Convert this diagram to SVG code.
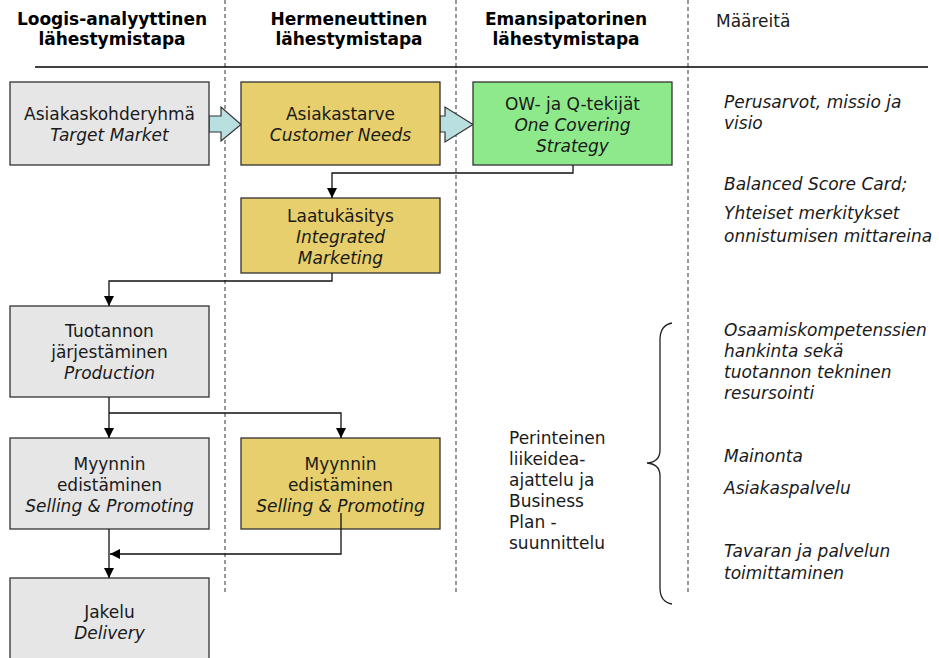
<svg xmlns="http://www.w3.org/2000/svg" width="939" height="658" viewBox="0 0 939 658">
  <style>
    text { font-family: Verdana, "DejaVu Sans", sans-serif; font-size: 17px; fill: #1a1a1a; }
    .hd { font-weight: bold; text-anchor: middle; fill: #000; }
    .c { text-anchor: middle; }
    .i { font-style: italic; }
    .box { stroke: #333; stroke-width: 1.3; }
    .gray { fill: #e6e6e6; }
    .gold { fill: #e6cf6c; }
    .green { fill: #8ee98a; }
    .blk { fill: #b9dfe0; stroke: #333; stroke-width: 1.2; }
    .sep { stroke: #555; stroke-width: 1.2; stroke-dasharray: 4 3; fill: none; }
    .con { stroke: #111; stroke-width: 1.3; fill: none; }
  </style>
  <defs>
    <marker id="arr" markerUnits="userSpaceOnUse" markerWidth="10" markerHeight="10" viewBox="0 0 10 10" refX="10" refY="5" orient="auto">
      <path d="M0,0 L10,5 L0,10 Z" fill="#000"/>
    </marker>
  </defs>

  <!-- column separators and header rule -->
  <g id="grid">
    <line class="sep" x1="225" y1="0" x2="225" y2="594"/>
    <line class="sep" x1="456" y1="0" x2="456" y2="594"/>
    <line class="sep" x1="688" y1="0" x2="688" y2="595"/>
    <line x1="35" y1="67" x2="928" y2="67" stroke="#000" stroke-width="1.3"/>
  </g>

  <!-- column headings -->
  <g id="headers">
    <text class="hd" x="112" y="25">Loogis-analyyttinen</text>
    <text class="hd" x="112" y="45">lähestymistapa</text>
    <text class="hd" x="349" y="25">Hermeneuttinen</text>
    <text class="hd" x="349" y="45">lähestymistapa</text>
    <text class="hd" x="566" y="25">Emansipatorinen</text>
    <text class="hd" x="566" y="45">lähestymistapa</text>
    <text x="716" y="27">Määreitä</text>
  </g>

  <!-- block arrows between the top boxes -->
  <g id="flow-arrows">
    <polygon class="blk" points="209,116 221,116 221,107 241,124.5 221,141 221,132 209,132"/>
    <polygon class="blk" points="440,116 445,116 445,107 473,124.5 445,142 445,132 440,132"/>
  </g>

  <g id="target-market">
    <rect class="box gray" x="10" y="82" width="199" height="83"/>
    <text class="c" x="109.5" y="120">Asiakaskohderyhmä</text>
    <text class="c i" x="109.5" y="141">Target Market</text>
  </g>

  <g id="customer-needs">
    <rect class="box gold" x="241" y="82" width="199" height="83"/>
    <text class="c" x="340.5" y="120">Asiakastarve</text>
    <text class="c i" x="340.5" y="141">Customer Needs</text>
  </g>

  <g id="one-covering-strategy">
    <rect class="box green" x="473" y="82" width="199" height="83"/>
    <text class="c" x="572.5" y="110">OW- ja Q-tekijät</text>
    <text class="c i" x="572.5" y="131">One Covering</text>
    <text class="c i" x="572.5" y="152">Strategy</text>
  </g>

  <g id="integrated-marketing">
    <rect class="box gold" x="241" y="198" width="199" height="75"/>
    <text class="c" x="340.5" y="222">Laatukäsitys</text>
    <text class="c i" x="340.5" y="243">Integrated</text>
    <text class="c i" x="340.5" y="264">Marketing</text>
  </g>

  <g id="production">
    <rect class="box gray" x="10" y="306" width="199" height="91"/>
    <text class="c" x="109.5" y="337">Tuotannon</text>
    <text class="c" x="109.5" y="358">järjestäminen</text>
    <text class="c i" x="109.5" y="379">Production</text>
  </g>

  <g id="selling-left">
    <rect class="box gray" x="10" y="438" width="199" height="91"/>
    <text class="c" x="109.5" y="470">Myynnin</text>
    <text class="c" x="109.5" y="491">edistäminen</text>
    <text class="c i" x="109.5" y="512">Selling &amp; Promoting</text>
  </g>

  <g id="selling-right">
    <rect class="box gold" x="241" y="438" width="199" height="91"/>
    <text class="c" x="340.5" y="470">Myynnin</text>
    <text class="c" x="340.5" y="491">edistäminen</text>
    <text class="c i" x="340.5" y="512">Selling &amp; Promoting</text>
  </g>

  <g id="delivery">
    <rect class="box gray" x="10" y="578" width="199" height="90"/>
    <text class="c" x="109.5" y="618">Jakelu</text>
    <text class="c i" x="109.5" y="639">Delivery</text>
  </g>

  <!-- elbow connectors -->
  <g id="connectors">
    <path class="con" d="M573,165 V173 H332 V198" marker-end="url(#arr)"/>
    <path class="con" d="M332,273 V281 H109 V306" marker-end="url(#arr)"/>
    <path class="con" d="M109,397 V438" marker-end="url(#arr)"/>
    <path class="con" d="M109,413 H341 V438" marker-end="url(#arr)"/>
    <path class="con" d="M109,529 V578" marker-end="url(#arr)"/>
    <path class="con" d="M341,513 V554 H110" stroke="#444" marker-end="url(#arr)"/>
  </g>

  <!-- traditional planning note with brace -->
  <g id="business-plan">
    <text x="509" y="444">Perinteinen</text>
    <text x="509" y="465">liikeidea-</text>
    <text x="509" y="486">ajattelu ja</text>
    <text x="509" y="507">Business</text>
    <text x="509" y="528">Plan -</text>
    <text x="509" y="549">suunnittelu</text>
    <path d="M672,323 Q660,325 660,340 V450 Q660,462 647,463 Q660,464 660,476 V588 Q660,602 672,604" fill="none" stroke="#222" stroke-width="1.3"/>
  </g>

  <!-- attribute column -->
  <g id="attributes">
    <text class="i" x="724" y="108">Perusarvot, missio ja</text>
    <text class="i" x="724" y="129">visio</text>
    <text class="i" x="724" y="190">Balanced Score Card;</text>
    <text class="i" x="724" y="219">Yhteiset merkitykset</text>
    <text class="i" x="724" y="242">onnistumisen mittareina</text>
    <text class="i" x="724" y="336">Osaamiskompetenssien</text>
    <text class="i" x="724" y="357">hankinta sekä</text>
    <text class="i" x="724" y="378">tuotannon tekninen</text>
    <text class="i" x="724" y="399">resursointi</text>
    <text class="i" x="724" y="462">Mainonta</text>
    <text class="i" x="724" y="494">Asiakaspalvelu</text>
    <text class="i" x="724" y="557">Tavaran ja palvelun</text>
    <text class="i" x="724" y="579">toimittaminen</text>
  </g>
</svg>
